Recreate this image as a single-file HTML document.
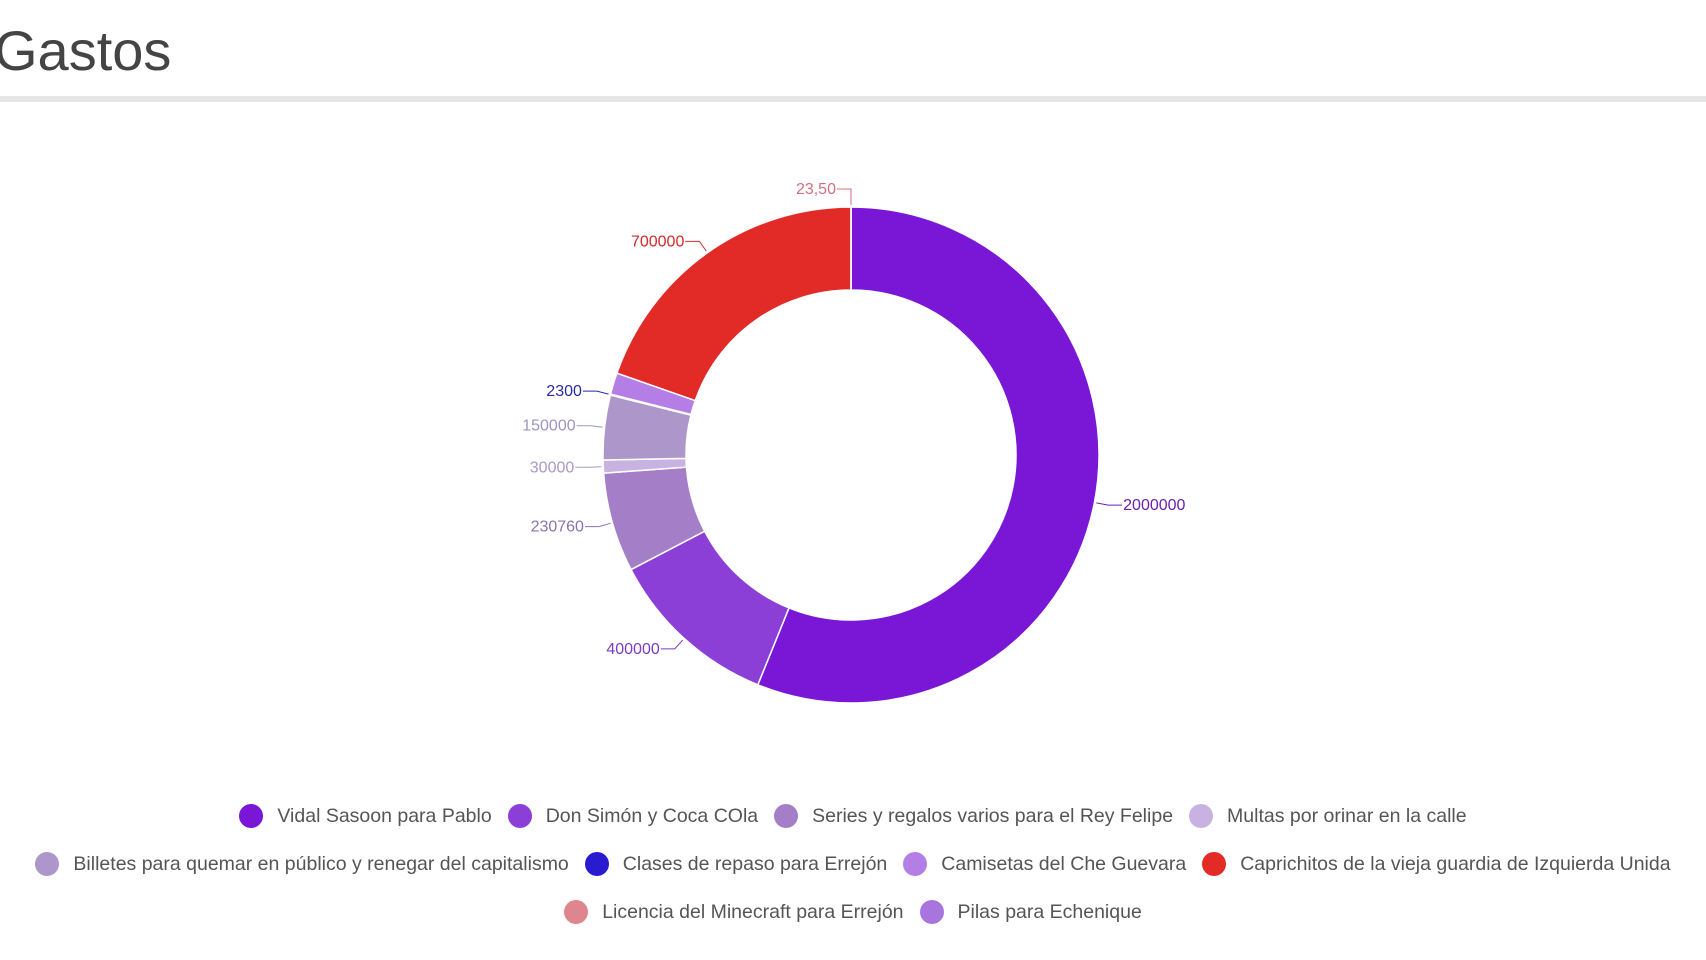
<!DOCTYPE html>
<html><head><meta charset="utf-8">
<style>
body{margin:0;width:1706px;height:960px;background:#fff;overflow:hidden;font-family:"Liberation Sans",sans-serif;position:relative}
#title{position:absolute;left:-6px;top:18px;font-size:56px;color:#444;margin:0;font-weight:normal}
#rule{position:absolute;left:0;top:96px;width:1706px;height:6px;background:#e6e6e6}
#legend{position:absolute;left:0;top:792px;width:1706px;display:flex;flex-wrap:wrap;justify-content:center;row-gap:0}
.item{display:flex;align-items:center;margin:11px 8px;font-size:19.5px;color:#555;height:26px}
.dot{width:24px;height:24px;border-radius:50%;margin-right:14px}
</style></head><body>
<h1 id="title">Gastos</h1>
<div id="rule"></div>
<svg id="chart" width="1706" height="780" style="position:absolute;left:0;top:0"></svg>
<div id="legend"></div>
<script>
const categories=["Vidal Sasoon para Pablo","Don Simón y Coca COla","Series y regalos varios para el Rey Felipe","Multas por orinar en la calle","Billetes para quemar en público y renegar del capitalismo","Clases de repaso para Errejón","Camisetas del Che Guevara","Caprichitos de la vieja guardia de Izquierda Unida","Licencia del Minecraft para Errejón","Pilas para Echenique"];
const values=[2000000,400000,230760,30000,150000,2300,50000,700000,23.5,0];
const valueLabels=["2000000","400000","230760","30000","150000","2300","","700000","23,50",""];
const colors=["#7a17d6","#8b3fd6","#a47fc8","#c8b2e2","#ad97ca","#2a1bd0","#b47ee6","#e22a26","#df8590","#a874de"];
const labelColors=["#6a1fb0","#7a3cc0","#8a72b0","#a898c8","#a094c0","#2a2aa0","#a070d0","#d02a2a","#d07080","#9a70d0"];
const svg=document.getElementById('chart');
const NS='http://www.w3.org/2000/svg';
const cx=851,cy=455,R=248,r=165;
const total=values.reduce((a,b)=>a+b,0);
function pt(a,rad){return [cx+rad*Math.sin(a),cy-rad*Math.cos(a)];}
let acc=0;
values.forEach((v,i)=>{
  const a0=acc/total*2*Math.PI; acc+=v; const a1=acc/total*2*Math.PI;
  if(v<=0)return;
  const large=(a1-a0)>Math.PI?1:0;
  const [x0,y0]=pt(a0,R),[x1,y1]=pt(a1,R),[x2,y2]=pt(a1,r),[x3,y3]=pt(a0,r);
  const p=document.createElementNS(NS,'path');
  p.setAttribute('d',`M${x0},${y0}A${R},${R} 0 ${large} 1 ${x1},${y1}L${x2},${y2}A${r},${r} 0 ${large} 0 ${x3},${y3}Z`);
  p.setAttribute('fill',colors[i]);p.setAttribute('stroke','#fff');p.setAttribute('stroke-width','1.5');
  
  
  svg.appendChild(p);
  if(!valueLabels[i])return;
  const am=(a0+a1)/2;
  const [lx,ly]=pt(am,R+2);
  let [ex,ey]=pt(am,R+14);
  if(i===8){ex=lx;ey=cy-R-18;}
  const right=Math.sin(am)>=0.001;
  const tx=right?ex+14:ex-14;
  const l=document.createElementNS(NS,'polyline');
  l.setAttribute('points',`${lx},${ly} ${ex},${ey} ${tx},${ey}`);
  l.setAttribute('fill','none');l.setAttribute('stroke',labelColors[i]);l.setAttribute('stroke-width','1');
  
  
  svg.appendChild(l);
  const t=document.createElementNS(NS,'text');
  t.setAttribute('x',right?tx+1:tx-1);t.setAttribute('y',ey+5);
  t.setAttribute('text-anchor',right?'start':'end');
  t.setAttribute('font-size','16');t.setAttribute('fill',labelColors[i]);
  t.setAttribute('font-family','Liberation Sans, sans-serif');
  t.textContent=valueLabels[i];
  
  
  svg.appendChild(t);
});
const leg=document.getElementById('legend');
const rows=[[0,1,2,3],[4,5,6,7],[8,9]];
rows.forEach((row,ri)=>{
  row.forEach(i=>{
    const d=document.createElement('div');d.className='item';
    
    
    const s=document.createElement('span');s.className='dot';s.style.background=colors[i];
    
    
    d.appendChild(s);d.appendChild(document.createTextNode(categories[i]));
    leg.appendChild(d);
  });
  const br=document.createElement('div');br.style.flexBasis='100%';br.style.height='0';
  
  
  leg.appendChild(br);
});
</script>
</body></html>
